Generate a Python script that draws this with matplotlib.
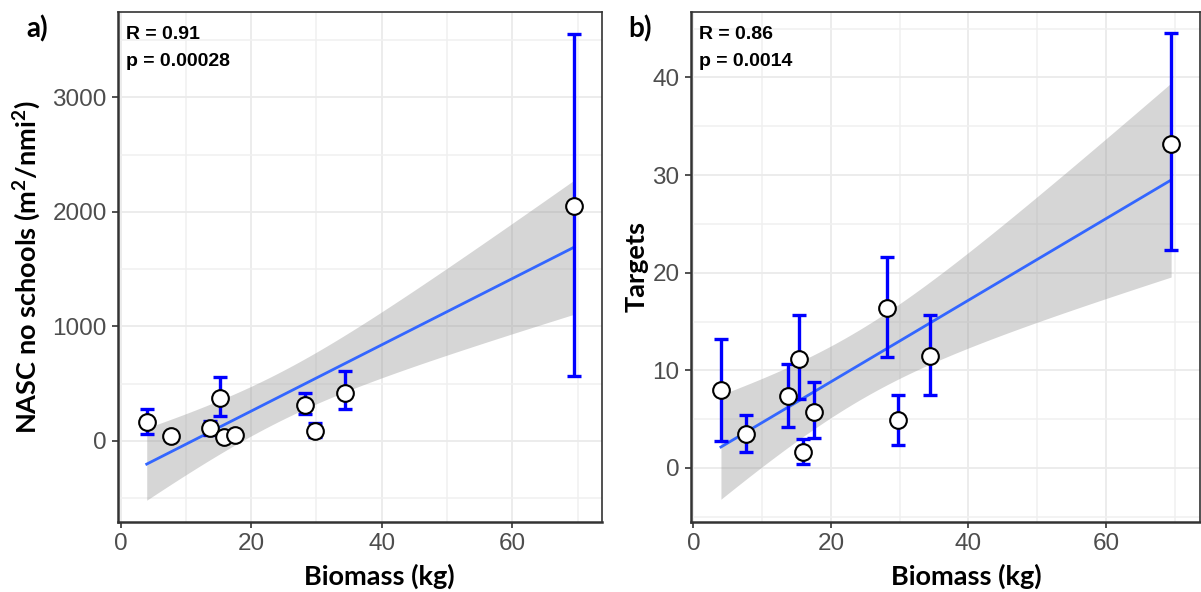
import numpy as np
import matplotlib
matplotlib.use("Agg")
import matplotlib.pyplot as plt
from matplotlib.ticker import MultipleLocator

plt.rcParams["mathtext.fontset"] = "custom"
plt.rcParams["mathtext.rm"] = "Lato:bold"
plt.rcParams["mathtext.bf"] = "Lato:bold"

# biomass per haul (kg), shared by both panels
biomass = [4.0, 7.7, 13.7, 15.3, 15.9, 17.5, 28.2, 29.8, 34.4, 69.5]

# panel a: NASC of non-school targets, mean with lower/upper bounds
nasc = [160, 38, 108, 370, 35, 52, 315, 87, 417, 2050]
nasc_lo = [59, 20, 50, 219, 20, 35, 233, 30, 277, 569]
nasc_hi = [277, 55, 175, 554, 50, 70, 417, 151, 606, 3549]

# panel b: number of targets
targets = [7.97, 3.46, 7.35, 11.2, 1.64, 5.74, 16.4, 4.9, 11.46, 33.2]
targets_lo = [2.74, 1.64, 4.2, 7.1, 0.45, 3.1, 11.4, 2.4, 7.46, 22.3]
targets_hi = [13.2, 5.4, 10.6, 15.7, 3.0, 8.76, 21.6, 7.46, 15.7, 44.5]

stats_a = ["R = 0.91", "p = 0.00028"]
stats_b = ["R = 0.86", "p = 0.0014"]

T_CRIT = 2.306  # t(0.975, df=8)

tick_font = "Liberation Sans"
title_font = "Lato"


def lm_band(x, y):
    x = np.asarray(x, float)
    y = np.asarray(y, float)
    n = len(x)
    b, a = np.polyfit(x, y, 1)
    res = y - (a + b * x)
    s = np.sqrt(np.sum(res ** 2) / (n - 2))
    xs = np.linspace(x.min(), x.max(), 80)
    fit = a + b * xs
    se = s * np.sqrt(1 / n + (xs - x.mean()) ** 2 / np.sum((x - x.mean()) ** 2))
    return xs, fit, fit - T_CRIT * se, fit + T_CRIT * se


def panel(ax, y, lo, hi, ylim, major, minor, ylabel, stats, ylab_x):
    ax.set_facecolor("white")
    xs, fit, lw, up = lm_band(biomass, y)
    ax.fill_between(xs, lw, up, color="#999999", alpha=0.4, lw=0, zorder=2)
    ax.plot(xs, fit, color="#3366FF", lw=2.0, zorder=3)
    y = np.asarray(y)
    yerr = [y - np.asarray(lo), np.asarray(hi) - y]
    ax.errorbar(biomass, y, yerr=yerr, fmt="none", ecolor="#0000FF",
                elinewidth=2.4, capsize=5, capthick=2.4, zorder=4)
    ax.plot(biomass, y, "o", ms=12, mfc="white", mec="black", mew=1.5,
            zorder=5)

    ax.set_xlim(-0.4, 73.7)
    ax.set_ylim(*ylim)
    ax.xaxis.set_major_locator(MultipleLocator(20))
    ax.xaxis.set_minor_locator(MultipleLocator(10))
    ax.yaxis.set_major_locator(MultipleLocator(major))
    ax.yaxis.set_minor_locator(MultipleLocator(minor))
    ax.grid(True, which="major", color="#EBEBEB", lw=1.3, zorder=0)
    ax.grid(True, which="minor", color="#F0F0F0", lw=1.1, zorder=0)
    ax.set_axisbelow(True)
    ax.tick_params(which="major", length=4, width=1.2, color="#333333",
                   labelsize=17.5, labelcolor="#4D4D4D", pad=4)
    ax.tick_params(which="minor", length=0)
    for lab in ax.get_xticklabels() + ax.get_yticklabels():
        lab.set_fontfamily(tick_font)
    for side in ["top", "right"]:
        ax.spines[side].set_color("#333333")
        ax.spines[side].set_linewidth(1.2)
    for side in ["left", "bottom"]:
        ax.spines[side].set_color("#333333")
        ax.spines[side].set_linewidth(1.8)

    ax.set_xlabel("Biomass (kg)", fontsize=19.5, fontweight="bold",
                  family=title_font)
    ax.xaxis.set_label_coords(0.541, -0.108)
    ax.xaxis.label.set_va("center")
    ax.set_ylabel(ylabel, fontsize=19.5, fontweight="bold", family=title_font)
    ax.yaxis.set_label_coords(ylab_x, 0.5)
    ax.yaxis.label.set_va("center")

    ax.text(0.016, 0.972, stats[0], transform=ax.transAxes, fontsize=14,
            fontweight="bold", family=tick_font, va="top", ha="left")
    ax.text(0.016, 0.92, stats[1], transform=ax.transAxes, fontsize=14,
            fontweight="bold", family=tick_font, va="top", ha="left")


W, H = 1201, 592
fig = plt.figure(figsize=(W / 100, H / 100), dpi=100)
ax_a = fig.add_axes([118 / W, (H - 521.7) / H, 483.7 / W, 509.7 / H])
ax_b = fig.add_axes([690.7 / W, (H - 521.7) / H, 509.3 / W, 509.7 / H])

panel(ax_a, nasc, nasc_lo, nasc_hi, (-707, 3745), 1000, 500,
      r"NASC no schools (m$^2$/nmi$^2$)", stats_a, -0.188)
panel(ax_b, targets, targets_lo, targets_hi, (-5.5, 46.7), 10, 5,
      "Targets", stats_b, -0.107)

fig.text(37 / W, 1 - 29 / H, "a)", fontsize=20, fontweight="bold",
         family=title_font, ha="center", va="center")
fig.text(640 / W, 1 - 29 / H, "b)", fontsize=20, fontweight="bold",
         family=title_font, ha="center", va="center")

fig.savefig("out.png", dpi=100, facecolor="white")
